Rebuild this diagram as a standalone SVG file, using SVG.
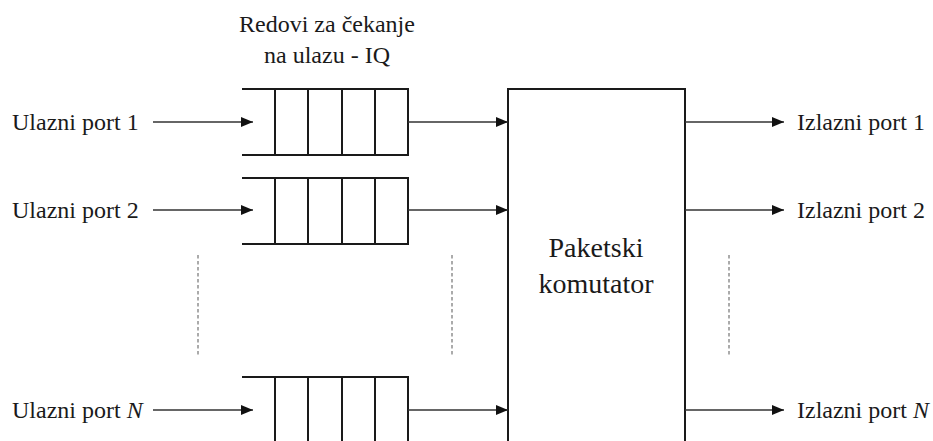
<svg xmlns="http://www.w3.org/2000/svg" width="933" height="441" viewBox="0 0 933 441">
  <defs>
    <marker id="arrow" markerUnits="userSpaceOnUse" markerWidth="13" markerHeight="11" refX="12" refY="5" orient="auto">
      <path d="M0,0 L12,5 L0,10 Z" fill="#111"/>
    </marker>
    <style>
      .lbl { font-family: Liberation Serif, DejaVu Serif, serif; font-size: 24px; fill: #1a1a1a; }
      .big { font-family: Liberation Serif, DejaVu Serif, serif; font-size: 28px; fill: #1a1a1a; }
      .q { fill: none; stroke: #1a1a1a; stroke-width: 2; }
      .arr { fill: none; stroke: #333; stroke-width: 1.4; marker-end: url(#arrow); }
      .dots { fill: none; stroke: #888; stroke-width: 1.4; stroke-dasharray: 3.5 2.5; }
    </style>
  </defs>
  <rect width="933" height="441" fill="#fff"/>

  <!-- heading above the input queues -->
  <g id="title">
    <text class="lbl" x="327" y="32" text-anchor="middle">Redovi za čekanje</text>
    <text class="lbl" x="327" y="63" text-anchor="middle">na ulazu - IQ</text>
  </g>

  <!-- input port labels -->
  <g id="in1"><text class="lbl" x="12" y="130">Ulazni port 1</text></g>
  <g id="in2"><text class="lbl" x="12" y="218">Ulazni port 2</text></g>
  <g id="inN"><text class="lbl" x="12" y="418">Ulazni port <tspan font-style="italic">N</tspan></text></g>

  <!-- output port labels -->
  <g id="out1"><text class="lbl" x="797" y="130">Izlazni port 1</text></g>
  <g id="out2"><text class="lbl" x="797" y="218">Izlazni port 2</text></g>
  <g id="outN"><text class="lbl" x="797" y="418">Izlazni port <tspan font-style="italic">N</tspan></text></g>

  <!-- input queues: open on the left, five cells -->
  <g id="queue1">
    <path class="q" d="M242,89 H408 V155 H242 M275,89 V155 M308,89 V155 M342,89 V155 M375,89 V155"/>
  </g>
  <g id="queue2">
    <path class="q" d="M242,178 H408 V244 H242 M275,178 V244 M308,178 V244 M342,178 V244 M375,178 V244"/>
  </g>
  <g id="queueN">
    <path class="q" d="M242,377 H408 V445 M275,377 V445 M308,377 V445 M342,377 V445 M375,377 V445"/>
  </g>

  <!-- switch fabric -->
  <g id="switch">
    <path class="q" d="M508,445 V89 H685 V445"/>
    <text class="big" x="596" y="257" text-anchor="middle">Paketski</text>
    <text class="big" x="596" y="293" text-anchor="middle">komutator</text>
  </g>

  <!-- connectors -->
  <g id="connectors">
    <line class="arr" x1="153" y1="122" x2="253" y2="122"/>
    <line class="arr" x1="153" y1="210" x2="253" y2="210"/>
    <line class="arr" x1="153" y1="410" x2="253" y2="410"/>
    <line class="arr" x1="408" y1="122" x2="508" y2="122"/>
    <line class="arr" x1="408" y1="210" x2="508" y2="210"/>
    <line class="arr" x1="408" y1="410" x2="508" y2="410"/>
    <line class="arr" x1="685" y1="122" x2="784" y2="122"/>
    <line class="arr" x1="685" y1="210" x2="784" y2="210"/>
    <line class="arr" x1="685" y1="410" x2="784" y2="410"/>
    <line class="dots" x1="198" y1="255" x2="198" y2="356"/>
    <line class="dots" x1="452" y1="255" x2="452" y2="356"/>
    <line class="dots" x1="729" y1="255" x2="729" y2="356"/>
  </g>
</svg>
